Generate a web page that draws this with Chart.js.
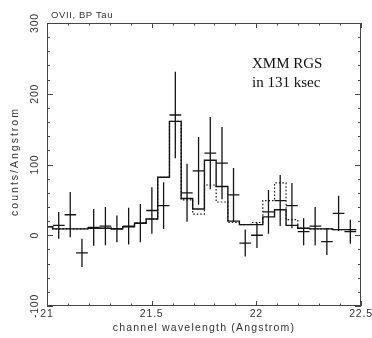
<!DOCTYPE html>
<html>
<head>
<meta charset="utf-8">
<script src="https://cdn.jsdelivr.net/npm/chart.js@4"></script>
<style>
  html, body { margin: 0; padding: 0; background: #fff; }
  #wrap { width: 372px; height: 338px; position: relative; }
</style>
</head>
<body>
<div id="wrap"><canvas id="chart"></canvas></div>
<script>
// --- values (OVII, BP Tau) ---
const binCenters = [21.056, 21.111, 21.167, 21.223, 21.279, 21.334, 21.390, 21.446, 21.501,
                    21.557, 21.613, 21.669, 21.724, 21.780, 21.836, 21.891, 21.947, 22.003,
                    22.058, 22.114, 22.170, 22.226, 22.281, 22.337, 22.393, 22.449];
const counts      = [14, 29, -25, 11, 13, 9, 13, 17, 35, 42, 170, 60, 91, 116, 102, 57, -11, 0,
                     33, 49, 42, 5, 13, -9, 31, 5];
const countErrors = [19, 32, 20, 26, 27, 19, 26, 27, 33, 33, 61, 41, 48, 51, 51, 38, 19, 18,
                     31, 36, 32, 19, 27, 19, 25, 17];

// model histograms (first bin is cut by the axis at 21.0)
const binEdges = [21.000, 21.028, 21.084, 21.139, 21.195, 21.251, 21.307, 21.362, 21.418, 21.474,
                  21.529, 21.585, 21.641, 21.696, 21.752, 21.808, 21.864, 21.919, 21.975, 22.031,
                  22.087, 22.142, 22.198, 22.254, 22.310, 22.365, 22.421, 22.477];
const modelSolid  = [12, 9, 9, 9, 10, 10, 9, 12, 17, 23, 82, 161, 52, 37, 106, 69, 20, 15, 15,
                     26, 36, 14, 10, 9, 9, 8, 8];
const modelDotted = [12, 9, 9, 9, 10, 10, 9, 12, 17, 23, 82, 161, 50, 30, 71, 47, 18, 15, 18,
                     49, 74, 22, 10, 9, 9, 8, 8];

const xMajorTicks = [21, 21.5, 22, 22.5];
const xTickLabels = ['21', '21.5', '22', '22.5'];
const yMajorTicks = [-100, 0, 100, 200, 300];
const yTickLabels = ['-100', '0', '100', '200', '300'];

const INK = '#151515';

function stepPoints(values) {
    const pts = values.map((v, k) => ({ x: binEdges[k], y: v }));
    pts.push({ x: binEdges[binEdges.length - 1], y: values[values.length - 1] });
    return pts;
}

// crosses: horizontal = bin width, vertical = error; null y breaks the line
const hBars = [], vBars = [];
binCenters.forEach((c, i) => {
    hBars.push({ x: binEdges[i + 1], y: counts[i] }, { x: binEdges[i + 2], y: counts[i] }, { x: binEdges[i + 2], y: null });
    vBars.push({ x: c, y: counts[i] - countErrors[i] }, { x: c, y: counts[i] + countErrors[i] }, { x: c, y: null });
});

const frameAndLabels = {
    id: 'frameAndLabels',
    afterDatasetsDraw(chart) {
        const { ctx, chartArea: a, scales: { x, y } } = chart;
        ctx.save();
        ctx.strokeStyle = '#444';
        ctx.lineWidth = 1;
        ctx.strokeRect(a.left + 0.5, a.top + 0.5, a.right - a.left - 1, a.bottom - a.top - 1);

        ctx.beginPath();
        for (let i = 210; i <= 225; i++) {
            const v = i / 10;
            const px = Math.round(x.getPixelForValue(v)) + 0.5;
            const len = xMajorTicks.includes(v) ? 5 : 2.5;
            ctx.moveTo(px, a.bottom); ctx.lineTo(px, a.bottom - len);
            ctx.moveTo(px, a.top); ctx.lineTo(px, a.top + len);
        }
        for (let v = -100; v <= 300; v += 20) {
            const py = Math.round(y.getPixelForValue(v)) + 0.5;
            const len = yMajorTicks.includes(v) ? 6 : 3;
            ctx.moveTo(a.left, py); ctx.lineTo(a.left + len, py);
            ctx.moveTo(a.right, py); ctx.lineTo(a.right - len, py);
        }
        ctx.stroke();

        ctx.fillStyle = '#333';
        ctx.font = '10.5px "Liberation Sans", Arial, sans-serif';
        ctx.textAlign = 'center';
        ctx.textBaseline = 'middle';
        ctx.letterSpacing = '0.8px';
        xMajorTicks.forEach((v, i) => ctx.fillText(xTickLabels[i], x.getPixelForValue(v), a.bottom + 8));
        yMajorTicks.forEach((v, i) => {
            ctx.save();
            ctx.translate(35, y.getPixelForValue(v));
            ctx.rotate(-Math.PI / 2);
            ctx.fillText(yTickLabels[i], 0, 0);
            ctx.restore();
        });

        ctx.letterSpacing = '1.2px';
        ctx.fillText('channel wavelength (Angstrom)', (a.left + a.right) / 2, 328);
        ctx.save();
        ctx.translate(15, (a.top + a.bottom) / 2 - 3);
        ctx.rotate(-Math.PI / 2);
        ctx.letterSpacing = '2px';
        ctx.fillText('counts/Angstrom', 0, 0);
        ctx.restore();

        ctx.letterSpacing = '0.6px';
        ctx.textAlign = 'left';
        ctx.textBaseline = 'alphabetic';
        ctx.font = '9.5px "Liberation Sans", Arial, sans-serif';
        ctx.fillText('OVII, BP Tau', 51, 18);

        ctx.letterSpacing = '0px';
        ctx.fillStyle = '#111';
        ctx.font = '15px "Liberation Serif", "Times New Roman", serif';
        ctx.fillText('XMM RGS', 252, 68);
        ctx.fillText('in 131 ksec', 252, 87);
        ctx.restore();
    }
};

new Chart(document.getElementById('chart'), {
    type: 'line',
    data: {
        datasets: [
            { label: 'model (solid)', data: stepPoints(modelSolid), stepped: true,
              borderColor: INK, borderWidth: 1.4, pointRadius: 0 },
            { label: 'model (dotted)', data: stepPoints(modelDotted), stepped: true,
              borderColor: INK, borderWidth: 1.2, borderDash: [1.5, 2], pointRadius: 0 },
            { label: 'data x', data: hBars, borderColor: INK, borderWidth: 1.3, pointRadius: 0, spanGaps: false },
            { label: 'data y', data: vBars, borderColor: INK, borderWidth: 1.3, pointRadius: 0, spanGaps: false }
        ]
    },
    options: {
        responsive: true,
        maintainAspectRatio: false,
        animation: false,
        layout: { padding: { left: 47, right: 11, top: 23, bottom: 32 } },
        plugins: { legend: { display: false }, tooltip: { enabled: false } },
        scales: {
            x: { type: 'linear', min: 21, max: 22.5, display: false },
            y: { type: 'linear', min: -100, max: 300, display: false }
        }
    },
    plugins: [frameAndLabels]
});
</script>
</body>
</html>
